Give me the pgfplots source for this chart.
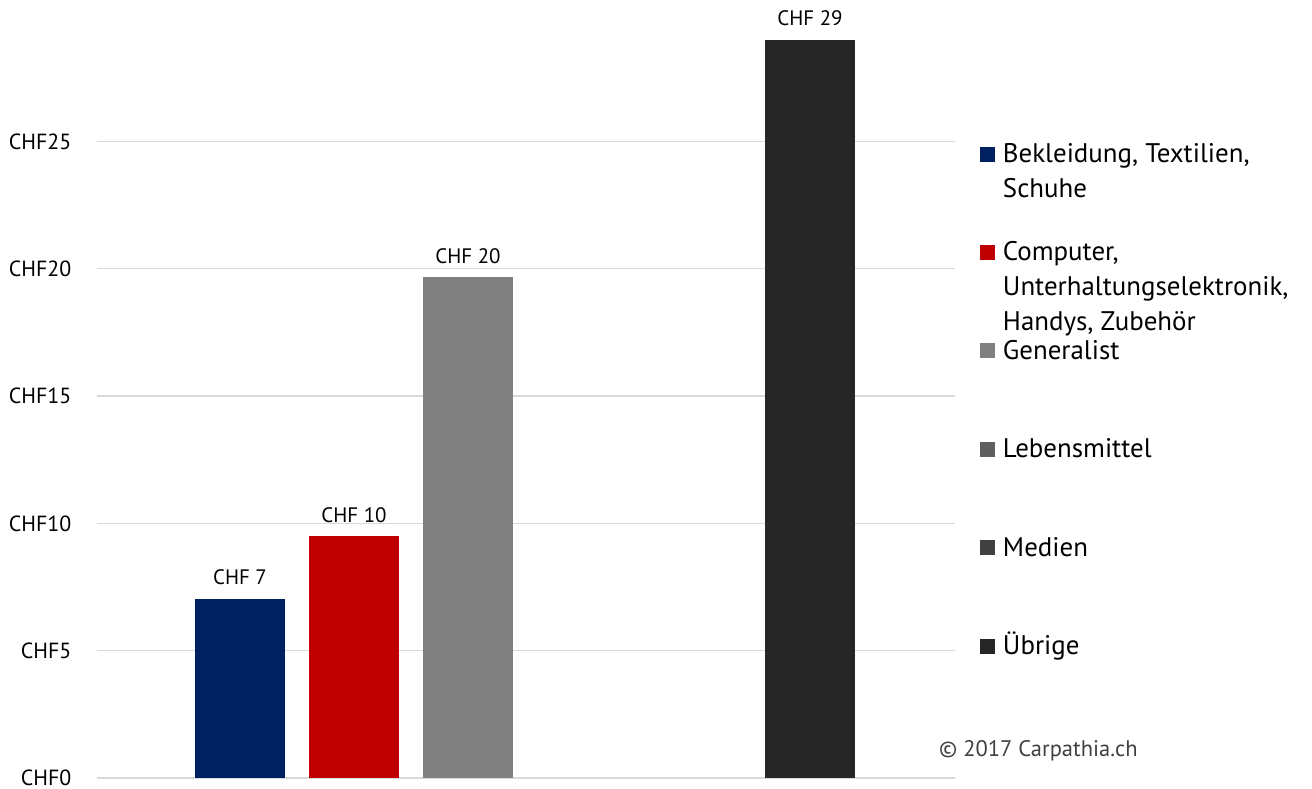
\documentclass[border=0pt]{standalone}
\usepackage{pgfplots}
\pgfplotsset{compat=1.18}
\usepackage{fontspec}
\setmainfont{PT Sans}
\definecolor{cA}{HTML}{002060}
\definecolor{cB}{HTML}{C00000}
\definecolor{cC}{HTML}{808080}
\definecolor{cD}{HTML}{5F5F5F}
\definecolor{cE}{HTML}{404040}
\definecolor{cF}{HTML}{262626}
\newcommand\lt[1]{\raisebox{0pt}[\ht\strutbox][\dp\strutbox]{\begin{tabular}[t]{@{}l@{}}#1\end{tabular}}}
\pgfplotsset{sq/.style={legend image code/.code={\fill[##1] (1bp,1bp) rectangle (16bp,16bp); \path (24bp,0bp);}}}
\begin{document}
\begin{tikzpicture}
\useasboundingbox (0,0) rectangle (1312bp,789bp);
\begin{axis}[
  at={(97bp,11bp)}, anchor=south west, scale only axis,
  width=858bp, height=778bp,
  xmin=-1.2544, xmax=6.2719, ymin=0, ymax=30.55,
  axis line style={draw=none},
  xtick=\empty,
  ytick={0,5,10,15,20,25},
  yticklabels={CHF0,CHF5,CHF10,CHF15,CHF20,CHF25},
  ymajorgrids, grid style={draw=black!15, line width=1.3bp},
  major tick length=0pt,
  yticklabel style={font=\fontsize{22}{26}\selectfont, inner sep=0pt, xshift=-25.5bp, text=black},
  ybar, bar width=90bp,
  nodes near coords, point meta=explicit symbolic,
  nodes near coords style={font=\fontsize{21}{25}\selectfont, anchor=base, inner sep=0pt, yshift=14bp, text=black},
  legend style={draw=none, fill=none, at={(1.0291,0.8224)}, anchor=north west, inner sep=0pt, outer sep=0pt, font=\fontsize{27}{35}\selectfont, row sep=72.5bp, cells={anchor=base west}, nodes={inner sep=0pt}},
  clip=false,
]
\addplot[fill=cA, draw=none, bar shift=0pt, sq] coordinates {(0,7.03) [CHF 7]};
\addlegendentry{\lt{Bekleidung, Textilien,\\Schuhe}}
\addplot[fill=cB, draw=none, bar shift=0pt, sq] coordinates {(1,9.50) [CHF 10]};
\addlegendentry{\lt{Computer,\\Unterhaltungselektronik,\\Handys, Zubehör}}
\addplot[fill=cC, draw=none, bar shift=0pt, sq] coordinates {(2,19.67) [CHF 20]};
\addlegendentry{\lt{Generalist}}
\addlegendimage{sq, fill=cD, draw=none}
\addlegendentry{\lt{Lebensmittel}}
\addlegendimage{sq, fill=cE, draw=none}
\addlegendentry{\lt{Medien}}
\addplot[fill=cF, draw=none, bar shift=0pt, sq] coordinates {(5,28.98) [CHF 29]};
\addlegendentry{\lt{Übrige}}
\end{axis}
\node[anchor=base west, inner sep=0pt, font=\fontsize{22.6}{26}\selectfont, text=black!75] at (939bp,33bp) {© 2017 Carpathia.ch};
\end{tikzpicture}
\end{document}
